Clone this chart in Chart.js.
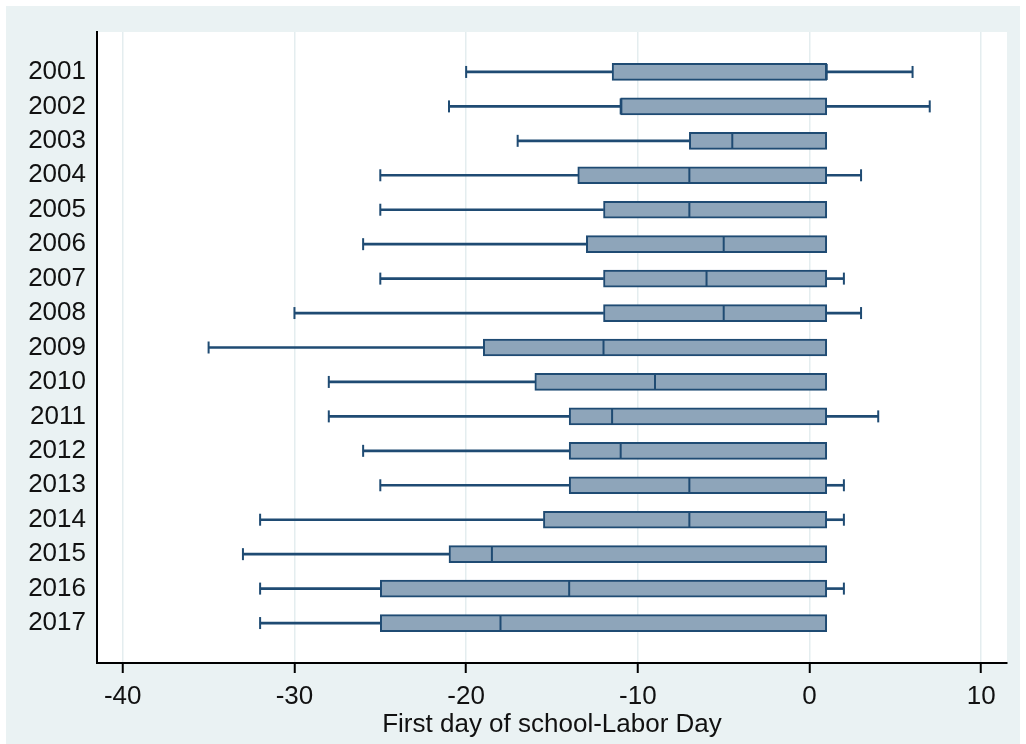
<!DOCTYPE html>
<html>
<head>
<meta charset="utf-8">
<script src="https://cdn.jsdelivr.net/npm/chart.js@4/dist/chart.umd.min.js"></script>
<style>
  html, body { margin: 0; padding: 0; background: #fff; }
  #wrap { width: 1026px; height: 744px; }
</style>
</head>
<body>
<div id="wrap"><canvas id="boxChart" width="1026" height="744"></canvas></div>
<script>
  // school start relative to Labor Day, by year
  const years   = [2001, 2002, 2003, 2004, 2005, 2006, 2007, 2008, 2009, 2010, 2011, 2012, 2013, 2014, 2015, 2016, 2017];
  const mins    = [-20, -21, -17, -25, -25, -26, -25, -30, -35, -28, -28, -26, -25, -32, -33, -32, -32];
  const q1s     = [-11.5, -11, -7, -13.5, -12, -13, -12, -12, -19, -16, -14, -14, -14, -15.5, -21, -25, -25];
  const medians = [1, -11, -4.5, -7, -7, -5, -6, -5, -12, -9, -11.5, -11, -7, -7, -18.5, -14, -18];
  const q3s     = [1, 1, 1, 1, 1, 1, 1, 1, 1, 1, 1, 1, 1, 1, 1, 1, 1];
  const maxs    = [6, 7, 1, 3, 1, 1, 2, 3, 1, 1, 4, 1, 2, 2, 1, 2, 1];
  const xTicks  = [-40, -30, -20, -10, 0, 10];

  const navy = '#1f4b73';
  const boxFill = '#8ea5ba';
  const bgColor = '#eaf2f3';
  const fontFamily = "'Liberation Sans', Arial, sans-serif";

  const lowWhiskers = years.map((y, i) => ({ x: [mins[i], q1s[i]], y: y }));
  const highWhiskers = years
    .map((y, i) => ({ x: [q3s[i], maxs[i]], y: y }))
    .filter(d => d.x[1] > d.x[0]);
  const boxes = years.map((y, i) => ({ x: [q1s[i], q3s[i]], y: y }));
  const medianPts = years.map((y, i) => ({ x: medians[i], y: y }));
  const capPts = years.map((y, i) => ({ x: mins[i], y: y }))
    .concat(years.map((y, i) => ({ x: maxs[i], y: y })).filter((d, i) => maxs[i] > q3s[i]));

  // grey frame behind everything, white plot region
  const backdrop = {
    id: 'backdrop',
    beforeDraw(chart) {
      const ctx = chart.ctx;
      const a = chart.chartArea;
      ctx.save();
      ctx.fillStyle = '#fff';
      ctx.fillRect(0, 0, chart.width, chart.height);
      ctx.fillStyle = bgColor;
      ctx.fillRect(6, 6, 1014, chart.height - 6);
      ctx.fillStyle = '#fff';
      ctx.fillRect(a.left, a.top, a.right - a.left, a.bottom - a.top);
      ctx.restore();
    }
  };

  const ctx = document.getElementById('boxChart').getContext('2d');
  new Chart(ctx, {
    type: 'bar',
    data: {
      datasets: [
        {
          type: 'bar',
          label: 'low whisker',
          data: lowWhiskers,
          backgroundColor: navy,
          borderWidth: 0,
          barThickness: 2,
          grouped: false,
          order: 4
        },
        {
          type: 'bar',
          label: 'high whisker',
          data: highWhiskers,
          backgroundColor: navy,
          borderWidth: 0,
          barThickness: 2,
          grouped: false,
          order: 4
        },
        {
          type: 'bar',
          label: 'box',
          data: boxes,
          backgroundColor: boxFill,
          borderColor: navy,
          borderWidth: 2,
          borderSkipped: false,
          barThickness: 17,
          grouped: false,
          order: 3
        },
        {
          type: 'scatter',
          label: 'median',
          data: medianPts,
          pointStyle: 'line',
          rotation: 90,
          radius: 8,
          hoverRadius: 8,
          borderColor: navy,
          borderWidth: 2,
          order: 1
        },
        {
          type: 'scatter',
          label: 'caps',
          data: capPts,
          pointStyle: 'line',
          rotation: 90,
          radius: 6,
          hoverRadius: 6,
          borderColor: navy,
          borderWidth: 2,
          order: 1
        }
      ]
    },
    options: {
      indexAxis: 'y',
      responsive: false,
      animation: false,
      layout: { padding: { top: 32, right: 19, bottom: 0, left: 0 } },
      plugins: {
        legend: { display: false },
        tooltip: { enabled: false }
      },
      scales: {
        x: {
          type: 'linear',
          min: -41.5,
          max: 11.5,
          afterBuildTicks: scale => { scale.ticks = xTicks.map(v => ({ value: v })); },
          afterFit: scale => { scale.height = 81; },
          grid: {
            color: '#e4edef',
            lineWidth: 1.5,
            tickColor: '#000',
            tickWidth: 2,
            tickLength: 10
          },
          border: { color: '#000', width: 2 },
          ticks: {
            color: '#111',
            padding: 8,
            maxRotation: 0,
            font: { family: fontFamily, size: 26 },
            callback: v => String(v)
          },
          title: {
            display: true,
            text: 'First day of school-Labor Day',
            color: '#111',
            font: { family: fontFamily, size: 26 },
            padding: { top: 0, bottom: 4 }
          }
        },
        y: {
          type: 'linear',
          reverse: true,
          offset: false,
          min: 1999.84,
          max: 2018.16,
          afterBuildTicks: scale => { scale.ticks = years.map(v => ({ value: v })); },
          afterFit: scale => { scale.width = 97; },
          grid: { display: false, drawTicks: false },
          border: { display: true, color: '#000', width: 2 },
          ticks: {
            color: '#111',
            padding: 11,
            font: { family: fontFamily, size: 26 },
            callback: v => String(v)
          }
        }
      }
    },
    plugins: [backdrop]
  });
</script>
</body>
</html>
